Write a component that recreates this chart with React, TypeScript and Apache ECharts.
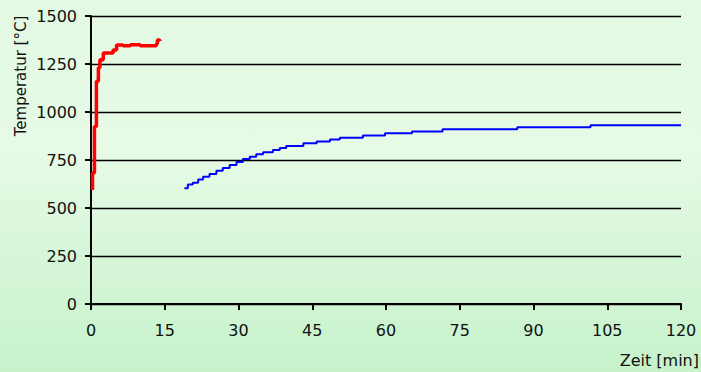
import React, { useEffect, useRef } from "react";
import * as echarts from "echarts";

// Red series (first measurement): time [min], temperature [°C]
const redTime = [0.3, 0.3, 0.7, 1.1, 1.5, 1.8, 2.5, 4.5, 5.2, 6.5, 8.0, 10.0, 13.3, 13.5, 14.0];
const redTemp = [594, 682, 925, 1160, 1230, 1272, 1307, 1323, 1349, 1345, 1350, 1345, 1355, 1375, 1370];

// Blue series (second measurement)
const blueTime = [19.0, 19.7, 20.7, 21.8, 22.8, 24.1, 25.5, 26.8, 28.2, 29.6, 30.9, 32.3, 33.6, 35.0, 37.0, 38.4, 39.7, 43.2, 45.9, 48.6, 50.6, 55.3, 59.8, 65.3, 71.5, 86.7, 101.6, 120.0];
const blueTemp = [603, 623, 632, 649, 663, 677, 694, 708, 724, 740, 755, 767, 780, 790, 802, 812, 823, 837, 846, 857, 866, 877, 889, 898, 910, 920, 931, 931];

const xTicks = { min: 0, max: 120, interval: 15 };
const yTicks = { min: 0, max: 1500, interval: 250 };

const FONT = "DejaVu Sans";

export default function App() {
  const ref = useRef<HTMLDivElement>(null);
  useEffect(() => {
    document.body.style.margin = "0";
    if (!ref.current) return;
    const chart = echarts.init(ref.current, undefined, { renderer: "svg" });
    const redData = redTime.map((t, i) => [t, redTemp[i]]);
    const blueData = blueTime.map((t, i) => [t, blueTemp[i]]);
    chart.setOption({
      animation: false,
      backgroundColor: "transparent",
      grid: { left: 91, right: 20, top: 16, bottom: 68, containLabel: false },
      xAxis: {
        type: "value",
        min: xTicks.min,
        max: xTicks.max,
        interval: xTicks.interval,
        axisLine: { show: true, onZero: false, lineStyle: { color: "#000", width: 2 } },
        axisTick: { show: true, inside: false, length: 6, lineStyle: { color: "#000", width: 2 } },
        axisLabel: { color: "#111", fontSize: 16, fontFamily: FONT, margin: 18, formatter: (v: number) => String(v) },
        splitLine: { show: false },
      },
      yAxis: {
        type: "value",
        min: yTicks.min,
        max: yTicks.max,
        interval: yTicks.interval,
        axisLine: { show: true, lineStyle: { color: "#000", width: 2 } },
        axisTick: { show: true, inside: false, length: 6, lineStyle: { color: "#000", width: 2 } },
        axisLabel: { color: "#111", fontSize: 16, fontFamily: FONT, margin: 14, formatter: (v: number) => String(v) },
        splitLine: { show: true, lineStyle: { color: "#000", width: 1.3 } },
      },
      graphic: [
        {
          type: "text",
          x: 21,
          y: 76,
          rotation: Math.PI / 2,
          style: {
            text: "Temperatur [°C]",
            fontSize: 15,
            fontFamily: FONT,
            fill: "#111",
            align: "center",
            verticalAlign: "middle",
          },
        },
        {
          type: "text",
          x: 699,
          y: 360,
          style: {
            text: "Zeit [min]",
            fontSize: 16,
            fontFamily: FONT,
            fill: "#111",
            align: "right",
            verticalAlign: "middle",
          },
        },
      ],
      series: [
        {
          type: "line",
          data: redData,
          step: "end",
          showSymbol: false,
          lineStyle: { color: "#ff0000", width: 3.5 },
          z: 3,
        },
        {
          type: "line",
          data: blueData,
          step: "end",
          showSymbol: false,
          lineStyle: { color: "#0000ff", width: 2 },
          z: 3,
        },
      ],
    });
    return () => chart.dispose();
  }, []);
  return (
    <div
      ref={ref}
      style={{
        width: 701,
        height: 372,
        background: "linear-gradient(to bottom, #e3f9e3 0%, #e6fae6 40%, #c6f2ca 100%)",
      }}
    />
  );
}
